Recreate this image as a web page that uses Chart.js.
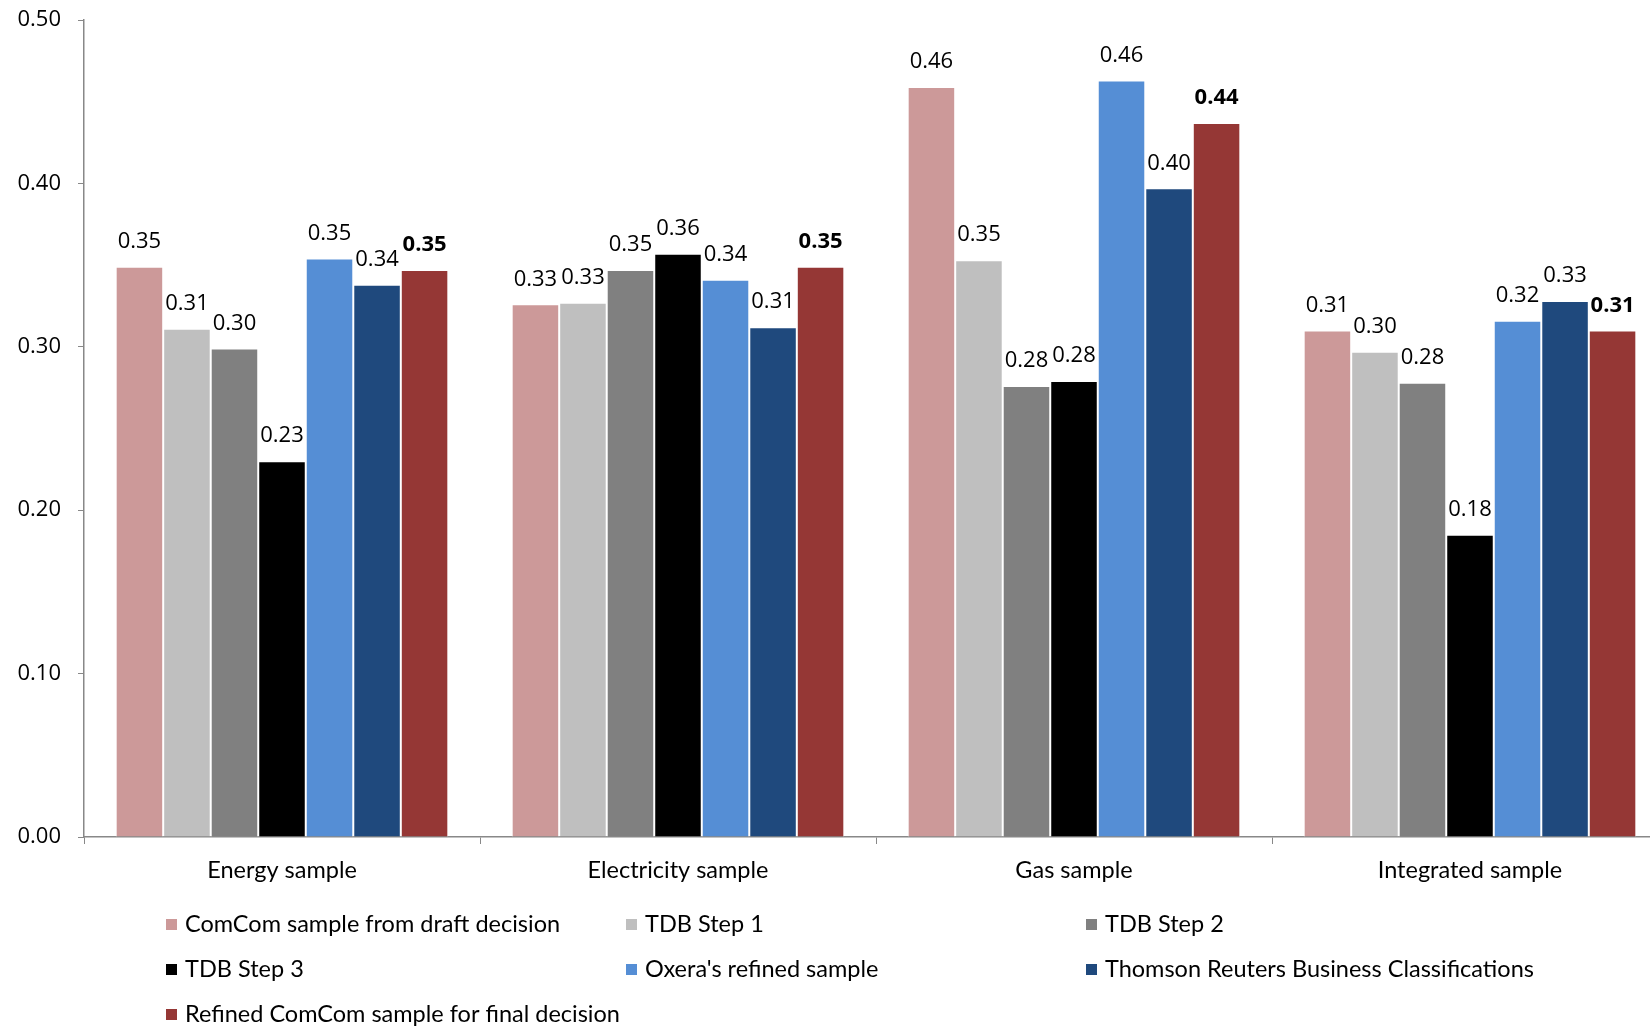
<!DOCTYPE html>
<html>
<head>
<meta charset="utf-8">
<script src="https://cdn.jsdelivr.net/npm/chart.js@4/dist/chart.umd.min.js"></script>
<style>
    html, body { margin: 0; padding: 0; background: #fff; overflow: hidden; }
    #wrap { width: 1700px; height: 1027px; }
</style>
</head>
<body>
<div id="wrap"><canvas id="graph" width="1700" height="1027"></canvas></div>
<script>
// values
const categories = ["Energy sample", "Electricity sample", "Gas sample", "Integrated sample"];
const seriesNames = [
    "ComCom sample from draft decision",
    "TDB Step 1",
    "TDB Step 2",
    "TDB Step 3",
    "Oxera's refined sample",
    "Thomson Reuters Business Classifications",
    "Refined ComCom sample for final decision"
];
const comcomDraft    = [0.349, 0.326, 0.459, 0.310];
const tdbStep1       = [0.311, 0.327, 0.353, 0.297];
const tdbStep2       = [0.299, 0.347, 0.276, 0.278];
const tdbStep3       = [0.230, 0.357, 0.279, 0.185];
const oxeraRefined   = [0.354, 0.341, 0.463, 0.316];
const thomsonReuters = [0.338, 0.312, 0.397, 0.328];
const refinedFinal   = [0.347, 0.349, 0.437, 0.310];
const yTicks = [0.00, 0.10, 0.20, 0.30, 0.40, 0.50];

const seriesValues = [comcomDraft, tdbStep1, tdbStep2, tdbStep3, oxeraRefined, thomsonReuters, refinedFinal];
const seriesColors = ["#CC9999", "#BFBFBF", "#808080", "#000000", "#558ED5", "#1F497D", "#953735"];

const numFont = "'Open Sans', 'DejaVu Sans', sans-serif";
const textFont = "Lato, 'Open Sans', sans-serif";

// value labels above each bar, last series in bold
var barLabels = {
    id: 'barLabels',
    afterDatasetsDraw(chart) {
        var ctx = chart.ctx;
        ctx.save();
        ctx.fillStyle = '#000';
        ctx.textAlign = 'center';
        ctx.textBaseline = 'middle';
        chart.data.datasets.forEach((ds, i) => {
            var meta = chart.getDatasetMeta(i);
            ctx.font = (i == seriesValues.length - 1 ? 'bold ' : '') + '22px ' + numFont;
            meta.data.forEach((bar, j) => {
                ctx.fillText(ds.data[j].toFixed(2), bar.x, bar.y - 25);
            });
        });
        ctx.restore();
    }
};

// legend laid out in 3 columns like the original
var gridLegend = {
    id: 'gridLegend',
    afterDraw(chart) {
        var ctx = chart.ctx;
        var area = chart.chartArea;
        ctx.save();
        ctx.font = '23.5px ' + textFont;
        ctx.textBaseline = 'middle';
        ctx.textAlign = 'left';
        chart.data.datasets.forEach((ds, i) => {
            var col = i % 3;
            var row = Math.floor(i / 3);
            var x = area.left + 82 + col * 460;
            var y = area.bottom + 87 + row * 45;
            ctx.fillStyle = ds.backgroundColor;
            ctx.fillRect(x, y - 5, 11, 11);
            ctx.fillStyle = '#000';
            ctx.fillText(ds.label, x + 19, y);
        });
        ctx.restore();
    }
};

var chart = new Chart("graph", {
    type: "bar",
    data: {
        labels: categories,
        datasets: seriesNames.map((name, i) => ({
            label: name,
            data: seriesValues[i],
            backgroundColor: seriesColors[i],
            borderColor: '#ffffff',
            borderWidth: 1,
            borderSkipped: 'bottom',
            categoryPercentage: 0.84,
            barPercentage: 1.0
        }))
    },
    options: {
        responsive: false,
        animation: false,
        layout: { padding: { top: 20, right: 32, bottom: 140, left: 0 } },
        plugins: {
            legend: { display: false },
            tooltip: { enabled: false }
        },
        scales: {
            x: {
                grid: { display: true, drawOnChartArea: false, drawTicks: true, tickLength: 7, color: '#888', offset: true },
                border: { display: true, color: '#888', width: 1.5 },
                ticks: { color: '#000', padding: 12, font: { family: textFont, size: 23.5 } },
                afterFit: (scale) => { scale.height = 50; }
            },
            y: {
                min: 0,
                max: 0.5,
                afterBuildTicks: (scale) => { scale.ticks = yTicks.map(v => ({ value: v })); },
                grid: { display: true, drawOnChartArea: false, drawTicks: true, tickLength: 6, color: '#888' },
                border: { display: true, color: '#888', width: 1.5 },
                ticks: {
                    color: '#000',
                    padding: 17,
                    font: { family: numFont, size: 22 },
                    callback: (v) => Number(v).toFixed(2)
                },
                afterFit: (scale) => {
                    scale.width = 84;
                    scale.paddingTop = 0;
                    scale.paddingBottom = 0;
                }
            }
        }
    },
    plugins: [barLabels, gridLegend]
});
</script>
</body>
</html>
